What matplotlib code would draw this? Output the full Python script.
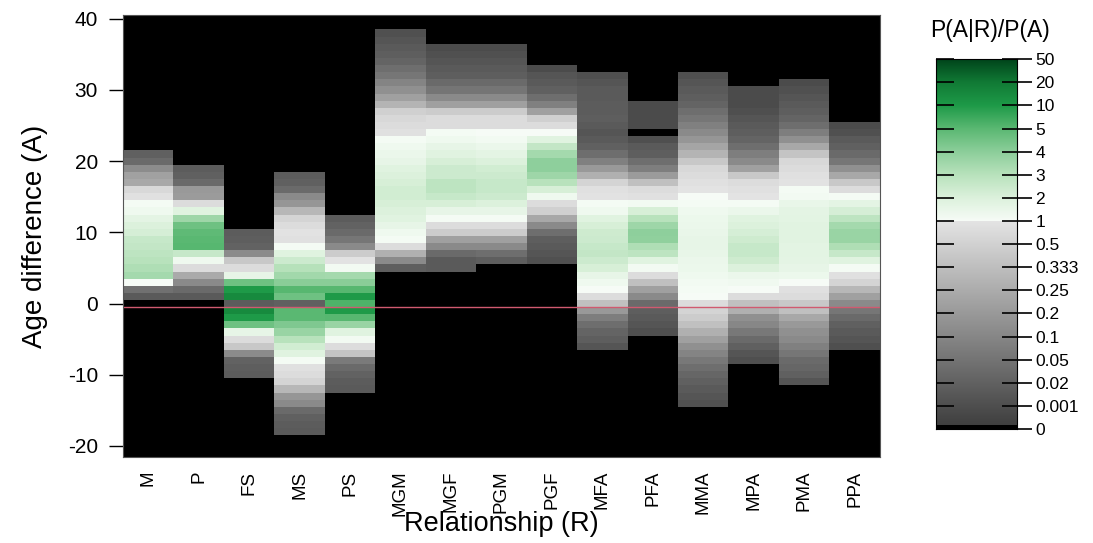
import numpy as np
import matplotlib
matplotlib.use("Agg")
import matplotlib.pyplot as plt
from matplotlib.colors import LinearSegmentedColormap

plt.rcParams['font.family'] = ['Liberation Sans', 'DejaVu Sans']
plt.rcParams['axes.unicode_minus'] = False

relationships = ["M", "P", "FS", "MS", "PS", "MGM", "MGF", "PGM", "PGF",
                 "MFA", "PFA", "MMA", "MPA", "PMA", "PPA"]

# oldest age difference of each column; values below run one year at a time downwards
top_age = [21, 19, 10, 18, 12, 38, 36, 36, 33, 32, 28, 32, 30, 31, 25]

# P(A|R)/P(A), from top_age down
ratio_M = [0.019, 0.034, 0.13, 0.22, 0.24, 0.68, 0.89, 1.1, 1.3, 1.7, 2.0, 2.2, 2.6, 2.7,
           2.85, 3.0, 3.2, 3.45, 1.05, 0.043, 0.013]
ratio_P = [0.015, 0.019, 0.034, 0.2, 0.205, 0.785, 1.85, 3.6, 4.6, 4.9, 5.0, 5.2, 2.6, 1.3,
           0.785, 0.245, 0.118, 0.034, 0.013]
ratio_FS = [0.015, 0.017, 0.021, 0.125, 0.42, 0.785, 1.6, 4.6, 10, 15, 0.015,
            15, 10, 4.6, 1.6, 0.785, 0.42, 0.125, 0.021, 0.017, 0.015]
ratio_MS = [0.015, 0.019, 0.034, 0.118, 0.18, 0.3, 0.57, 0.785, 0.95, 0.89, 1.1, 1.85, 2.45,
            3.05, 3.5, 4.05, 5.2, 4.6, 0.019, 5.0, 5.0, 4.25, 3.7, 3.0, 2.3, 1.85, 1.1, 0.89,
            0.785, 0.57, 0.3, 0.18, 0.118, 0.034, 0.019, 0.015, 0.013]
ratio_PS = [0.015, 0.021, 0.034, 0.056, 0.118, 0.45, 0.95, 1.2, 3.45, 4.05, 5.2, 10, 6,
            10, 5.2, 3.7, 1.85, 1.2, 0.785, 0.38, 0.066, 0.034, 0.021, 0.015, 0.013]
ratio_MGM = [0.0023, 0.0075, 0.0126, 0.0166, 0.024, 0.04, 0.056, 0.093, 0.15, 0.218, 0.286,
             0.488, 0.68, 0.785, 0.89, 1.1, 1.3, 1.45, 1.6, 1.85, 2.0, 2.15, 2.3, 2.3, 2.15,
             2.0, 1.85, 1.6, 1.3, 1.1, 0.785, 0.267, 0.118, 0.017]
ratio_MGF = [0.0008, 0.0023, 0.0075, 0.0126, 0.0166, 0.034, 0.053, 0.118, 0.218, 0.45, 0.785,
             0.785, 1.1, 1.3, 1.6, 1.85, 2.15, 2.45, 2.45, 2.85, 2.85, 2.6, 2.15, 1.6, 1.1,
             0.785, 0.45, 0.218, 0.118, 0.034, 0.0126, 0.0126]
ratio_PGM = [0.0008, 0.0023, 0.0075, 0.0126, 0.0166, 0.034, 0.053, 0.118, 0.218, 0.45, 0.785,
             0.785, 1.05, 1.2, 1.45, 1.7, 2.0, 2.3, 2.45, 2.6, 2.6, 2.45, 2.0, 1.6, 1.1,
             0.785, 0.45, 0.218, 0.118, 0.04, 0.0166]
ratio_PGF = [0.0008, 0.0075, 0.0126, 0.0187, 0.04, 0.082, 0.218, 0.488, 0.785, 1.05, 1.85,
             2.7, 3.45, 3.95, 3.95, 3.6, 3.0, 2.15, 1.3, 0.785, 0.488, 0.24, 0.118, 0.04,
             0.0166, 0.0126, 0.0075, 0.0023]
ratio_MFA = [0.0015, 0.0075, 0.0126, 0.0126, 0.0145, 0.0145, 0.0166, 0.0126, 0.0075, 0.0126,
             0.0187, 0.04, 0.082, 0.2, 0.267, 0.57, 0.89, 0.95, 1.1, 1.3, 1.85, 2.15, 2.4,
             2.45, 2.6, 2.7, 2.45, 2.15, 1.6, 1.3, 1.05, 0.785, 0.345, 0.2, 0.077, 0.04,
             0.024, 0.0166, 0.0075]
ratio_PFA = [0.0008, 0.0008, 0.0008, 0.0008, 0, 0.0015, 0.0126, 0.0166, 0.04, 0.077, 0.205,
             0.345, 0.785, 0.89, 1.2, 2.15, 3.0, 3.6, 3.95, 3.9, 3.2, 2.85, 1.85, 1.2, 0.785,
             0.345, 0.218, 0.118, 0.034, 0.0166, 0.0126, 0.0075, 0.0015]
ratio_MMA = [0.0015, 0.0075, 0.0126, 0.0166, 0.024, 0.04, 0.056, 0.082, 0.118, 0.18, 0.23,
             0.286, 0.42, 0.68, 0.785, 0.89, 0.98, 1.05, 1.1, 1.3, 1.4, 1.45, 1.5, 1.6, 1.6,
             1.55, 1.45, 1.4, 1.3, 1.2, 1.1, 1.05, 0.785, 0.57, 0.45, 0.345, 0.267, 0.218,
             0.15, 0.093, 0.06, 0.04, 0.0275, 0.0187, 0.0126, 0.0075, 0.0023]
ratio_MPA = [0.0008, 0.0008, 0.0008, 0.0015, 0.0075, 0.0126, 0.0166, 0.024, 0.04, 0.077,
             0.118, 0.218, 0.42, 0.785, 0.89, 0.98, 1.1, 1.45, 1.85, 2.0, 2.2, 2.4, 2.6, 2.6,
             2.4, 2.0, 1.45, 1.25, 1.05, 0.785, 0.345, 0.267, 0.15, 0.1, 0.06, 0.034, 0.0187,
             0.0075, 0.0015]
ratio_PMA = [0.0008, 0.0023, 0.0075, 0.0126, 0.0166, 0.024, 0.04, 0.077, 0.15, 0.24, 0.38,
             0.68, 0.785, 0.89, 0.95, 1.1, 1.2, 1.5, 1.7, 1.75, 1.8, 1.8, 1.8, 1.75, 1.75,
             1.7, 1.6, 1.4, 1.05, 0.89, 0.785, 0.42, 0.345, 0.24, 0.2, 0.15, 0.118, 0.082,
             0.056, 0.034, 0.0275, 0.0187, 0.0075]
ratio_PPA = [0.0008, 0.0023, 0.0126, 0.0187, 0.034, 0.056, 0.15, 0.24, 0.42, 0.785, 1.1, 1.7,
             2.2, 2.85, 3.45, 3.7, 3.7, 3.2, 2.6, 1.85, 1.1, 0.89, 0.57, 0.3, 0.218, 0.118,
             0.056, 0.034, 0.0187, 0.0126, 0.0075, 0.0015]

ratios = [ratio_M, ratio_P, ratio_FS, ratio_MS, ratio_PS, ratio_MGM, ratio_MGF, ratio_PGM,
          ratio_PGF, ratio_MFA, ratio_PFA, ratio_MMA, ratio_MPA, ratio_PMA, ratio_PPA]

breaks = [0, 0.001, 0.02, 0.05, 0.1, 0.2, 0.25, 0.333, 0.5, 1, 2, 3, 4, 5, 10, 20, 50]
break_labels = ["0", "0.001", "0.02", "0.05", "0.1", "0.2", "0.25", "0.333", "0.5",
                "1", "2", "3", "4", "5", "10", "20", "50"]

ages = np.arange(-21, 41)
grid = np.zeros((len(ages), len(relationships)))
for j, (top, vals) in enumerate(zip(top_age, ratios)):
    for k, v in enumerate(vals):
        grid[top - k - ages[0], j] = v

# colour position: each break interval gets the same share of the scale
nb = len(breaks) - 1
pos = np.interp(grid, breaks, np.arange(len(breaks)))
pos = np.ma.masked_where(grid <= 0, pos)

nodes = [(0.0, '#3c3c3c'), (9 / nb, '#e4e4e4'), (9 / nb + 1e-4, '#f7fcf7'),
         (10 / nb, '#dcf1dc'), (11 / nb, '#b8e2bc'), (12 / nb, '#8cce9a'),
         (13 / nb, '#5ab872'), (14 / nb, '#1e9a48'), (15 / nb, '#117a35'),
         (1.0, '#00441b')]
cmap = LinearSegmentedColormap.from_list("ratio", nodes, N=4096)
cmap.set_under('black')
cmap.set_bad('black')

fig = plt.figure(figsize=(10.93, 5.43), dpi=100)
ax = fig.add_axes([0.1125, 0.159, 0.6925, 0.813])
ax.set_facecolor('black')
ax.pcolormesh(np.arange(0.5, len(relationships) + 1), np.arange(ages[0] - 0.5, ages[-1] + 1),
              pos, cmap=cmap, vmin=0, vmax=nb)
ax.axhline(-0.5, color='#d05a70', lw=1)

ax.set_xlim(0.5, len(relationships) + 0.5)
ax.set_ylim(ages[0] - 0.5, ages[-1] + 0.5)
ax.set_xticks(np.arange(1, len(relationships) + 1))
ax.set_xticklabels(relationships, rotation=90, fontsize=13.5)
ax.set_yticks(np.arange(-20, 41, 10))
ax.tick_params(axis='x', length=0, pad=10)
ax.tick_params(axis='y', length=10, width=1, pad=8, labelsize=15)
ax.set_xlabel("Relationship (R)", fontsize=19.5, labelpad=-4)
ax.set_ylabel("Age difference (A)", fontsize=20, labelpad=14)
for s in ax.spines.values():
    s.set_color('#555555')

# colour key
cax = fig.add_axes([0.8565, 0.21, 0.0741, 0.681])
key = np.linspace(0, nb, 2000)
key[key < 0.15] = -1
cax.imshow(key[:, None], aspect='auto', origin='lower', extent=[0, 1, 0, nb],
           cmap=cmap, vmin=0, vmax=nb, interpolation='nearest')
cax.set_xticks([])
cax.set_yticks(np.arange(len(breaks)))
cax.set_yticklabels(break_labels, fontsize=12.5)
cax.yaxis.tick_right()
cax.tick_params(axis='y', direction='inout', length=22, width=1.2, pad=2)
left_ticks = cax.secondary_yaxis('left')
left_ticks.set_yticks(np.arange(len(breaks)))
left_ticks.tick_params(axis='y', direction='in', length=13, width=1.2, labelleft=False)
left_ticks.spines['left'].set_visible(False)
cax.set_ylim(0, nb)
fig.text(0.906, 0.943, "P(A|R)/P(A)", fontsize=16.5, ha='center', va='center')

fig.savefig("out.png", dpi=100)
